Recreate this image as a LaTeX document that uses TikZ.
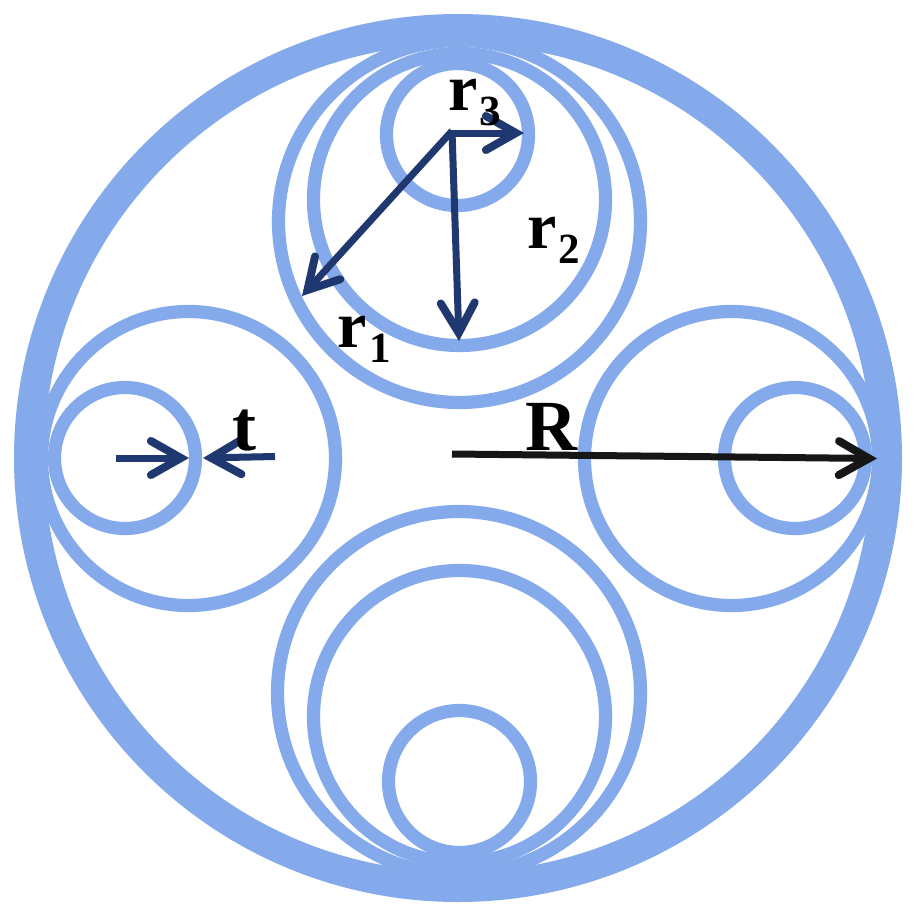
\documentclass[tikz,border=0pt]{standalone}
\usepackage{fontspec}
\setmainfont{Liberation Serif}
\usetikzlibrary{arrows.meta}
\definecolor{ring}{RGB}{133,170,235}
\definecolor{navy}{RGB}{31,56,112}
\definecolor{ink}{RGB}{22,22,22}
\newcommand{\sublab}[2]{r\raisebox{-15pt}{\fontsize{43}{43}\bfseries\selectfont\kern #2pt #1}}
\tikzset{
  x=1pt,y=-1pt,
  ringline/.style={circle,draw=ring,line width=13.2pt,fill=none,inner sep=0pt,outer sep=0pt},
  outerline/.style={circle,draw=ring,line width=30pt,fill=none,inner sep=0pt,outer sep=0pt},
  navyarrow/.style={draw=navy,line width=7pt,-{Straight Barb[length=30pt,width=34pt,line width=8pt,line cap=round]}},
  inkarrow/.style={draw=ink,line width=7pt,-{Straight Barb[length=30pt,width=34pt,line width=8pt,line cap=round]}},
  lab/.style={inner sep=0pt,outer sep=0pt,text=black,anchor=base west,font=\fontsize{66}{66}\bfseries\selectfont},
  bigl/.style={inner sep=0pt,outer sep=0pt,text=black,anchor=base west,font=\fontsize{72}{72}\bfseries\selectfont},
}
\begin{document}
\begin{tikzpicture}
\useasboundingbox (0,0) rectangle (918,918);
\fill[white] (0,0) rectangle (918,918);
% outer
\node[outerline,minimum size=858pt] (outer) at (458,458) {};
% top group
\node[ringline,minimum size=362pt] (t1) at (459.5,221.5) {};
\node[ringline,minimum size=292pt] (t2) at (459.5,199.5) {};
\node[ringline,minimum size=142pt] (t3) at (457.5,134.5) {};
% bottom group
\node[ringline,minimum size=363pt] (b1) at (459,693) {};
\node[ringline,minimum size=292pt] (b2) at (459.5,716.5) {};
\node[ringline,minimum size=142pt] (b3) at (459.5,781.5) {};
% left group
\node[ringline,minimum size=294pt] (l2) at (188.5,458.5) {};
\node[ringline,minimum size=141pt] (l3) at (125,458) {};
% right group
\node[ringline,minimum size=294pt] (r2) at (731.5,458.5) {};
\node[ringline,minimum size=141pt] (r3) at (795,458) {};
% arrows
\coordinate (c) at (452,131);
\coordinate (cr3s) at (451,133);
\coordinate (cr3) at (524,133);
\coordinate (cr2) at (459,341);
\coordinate (cr1) at (302,296);
\draw[navyarrow] (cr3s) -- (cr3);
\draw[navyarrow] (c) -- (cr2);
\draw[navyarrow] (c) -- (cr1);
\coordinate (ta) at (116,458);
\coordinate (tb) at (189,458);
\coordinate (tc) at (275,456.5);
\coordinate (td) at (203,458);
\draw[navyarrow] (ta) -- (tb);
\draw[navyarrow] (tc) -- (td);
\coordinate (Ra) at (452,454);
\coordinate (Rb) at (877,458.5);
\draw[inkarrow] (Ra) -- (Rb);
% labels
\node[lab] (lr3) at (448,110) {\sublab{3}{2}};
\node[lab] (lr2) at (527,248) {\sublab{2}{2}};
\node[lab] (lr1) at (337,347) {\sublab{1}{3}};
\node[bigl] (lt) at (232,450) {t};
\node[bigl] (lR) at (525,450) {R};
\end{tikzpicture}
\end{document}
